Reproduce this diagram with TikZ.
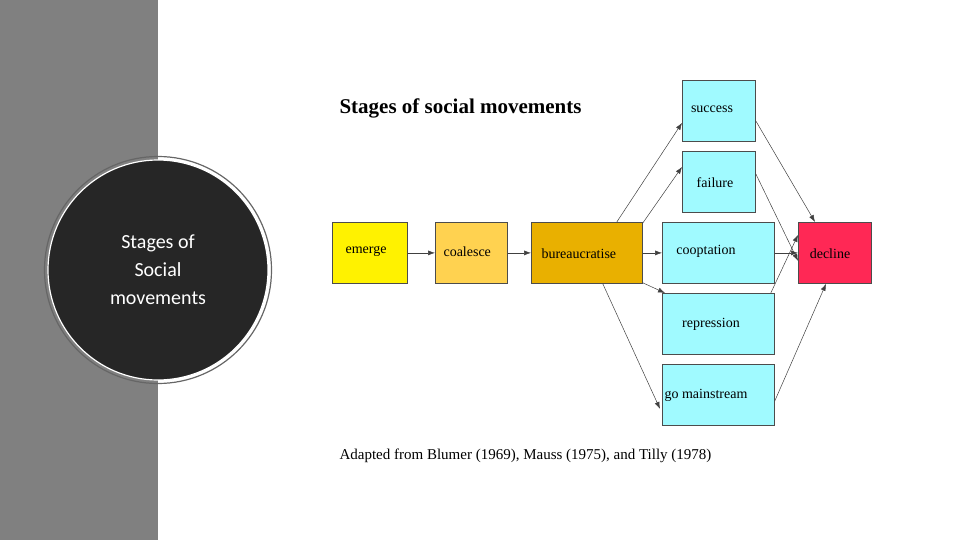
\documentclass[tikz,border=0pt]{standalone}
\usepackage{fontspec}
\setmainfont{Liberation Serif}
\newfontfamily\calib{Carlito}
\usetikzlibrary{arrows.meta}
\begin{document}
\begin{tikzpicture}[x=1pt,y=-1pt,
  box/.style={draw=black!70,line width=0.8pt,anchor=north west,inner sep=0pt,font=\fontsize{14}{16}\selectfont},
  arr/.style={-{Latex[length=7pt,width=5pt]},black!75,line width=0.5pt}]
\useasboundingbox (0,0) rectangle (960,540);
\fill[gray!100!white,fill=black!50] (0,0) rectangle (158,540);
\node[circle,fill=black!85,draw=white,line width=1.2pt,minimum size=220pt,inner sep=0pt] (circ) at (158,270) {};
\draw[black!60,line width=1.2pt] (158,270) circle (113.5);
\node[align=center,text=white,font=\calib\fontsize{20}{28}\selectfont] (ctext) at (158,270) {Stages of\\Social\\movements};
\node[anchor=west,font=\bfseries\fontsize{21}{24}\selectfont] (title) at (336,108) {Stages of social movements};
\node[anchor=west,font=\fontsize{15}{18}\selectfont] (cap) at (336,456) {Adapted from Blumer (1969), Mauss (1975), and Tilly (1978)};
\node[box,fill=yellow,minimum width=75pt,minimum height=61pt] (em) at (332,222) {};
\node[anchor=west,font=\fontsize{14}{16}\selectfont] at (342,251) {emerge};
\node[box,fill={rgb,255:red,255;green,210;blue,80},minimum width=72pt,minimum height=61pt] (co) at (435,222) {};
\node[anchor=west,font=\fontsize{14}{16}\selectfont] at (440,252) {coalesce};
\node[box,fill={rgb,255:red,233;green,176;blue,0},minimum width=111pt,minimum height=61pt] (bu) at (531,222) {};
\node[anchor=west,font=\fontsize{14}{16}\selectfont] at (538,254) {bureaucratise};
\tikzset{cy/.style={box,fill={rgb,255:red,160;green,250;blue,255}}}
\node[cy,minimum width=73pt,minimum height=61pt] (su) at (682,80) {};
\node[font=\fontsize{14}{16}\selectfont] at (712,109) {success};
\node[cy,minimum width=73pt,minimum height=61pt] (fa) at (682,151) {};
\node[font=\fontsize{14}{16}\selectfont] at (715,183) {failure};
\node[cy,minimum width=112pt,minimum height=61pt] (cp) at (662,222) {};
\node[font=\fontsize{14}{16}\selectfont] at (706,251) {cooptation};
\node[cy,minimum width=112pt,minimum height=61pt] (re) at (662,293) {};
\node[font=\fontsize{14}{16}\selectfont] at (711,324) {repression};
\node[cy,minimum width=112pt,minimum height=61pt] (gm) at (662,364) {};
\node[font=\fontsize{14}{16}\selectfont] at (706,395) {go mainstream};
\node[box,fill={rgb,255:red,255;green,40;blue,85},minimum width=73pt,minimum height=61pt] (de) at (798,222) {};
\node[font=\fontsize{14}{16}\selectfont] at (830,254) {decline};
\draw[arr] (em.east) -- (co.west);
\draw[arr] (co.east) -- (bu.west);
\draw[arr] (bu.east) -- (cp.west);
\draw[arr] ([xshift=-26pt]bu.north east) -- ([yshift=-12pt]su.west);
\draw[arr] ([yshift=-1pt]bu.north east) -- ([yshift=15pt]fa.west);
\draw[arr] ([yshift=1pt]bu.south east) -- ([xshift=3pt]re.north west);
\draw[arr] ([xshift=-40pt]bu.south east) -- ([xshift=-2pt,yshift=-14pt]gm.west);
\draw[arr] ([yshift=-10pt]su.east) -- ([xshift=17pt]de.north west);
\draw[arr] ([yshift=8pt]fa.east) -- ([yshift=-8pt]de.west);
\draw[arr] (cp.east) -- (de.west);
\draw[arr] ([xshift=-4pt]re.north east) -- ([yshift=18pt]de.west);
\draw[arr] ([yshift=-6pt]gm.east) -- ([xshift=28pt]de.south west);
\end{tikzpicture}
\end{document}
